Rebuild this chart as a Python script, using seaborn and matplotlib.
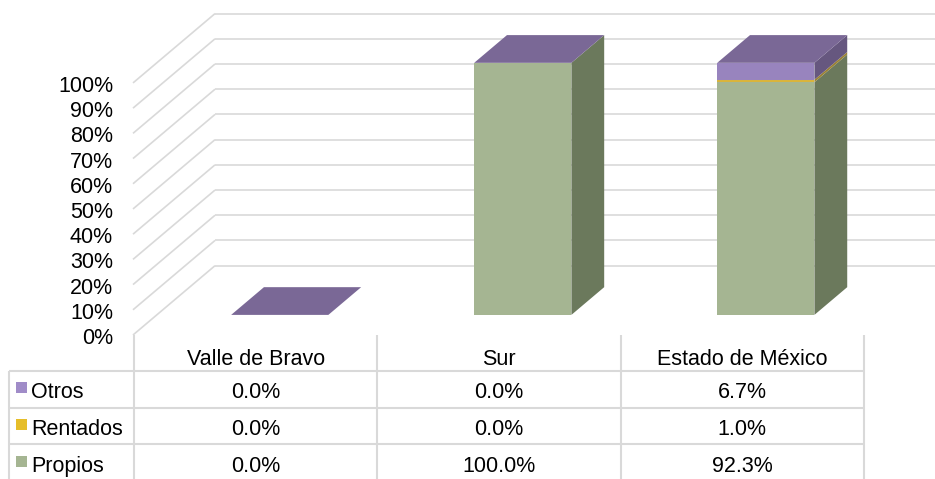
import matplotlib
matplotlib.use("Agg")
import matplotlib.pyplot as plt
import seaborn as sns
import pandas as pd
from matplotlib.transforms import ScaledTranslation

# ---------------- data ----------------
categories = ["Valle de Bravo", "Sur", "Estado de México"]
series_names = ["Otros", "Rentados", "Propios"]
otros = [0.0, 0.0, 6.7]
rentados = [0.0, 0.0, 1.0]
propios = [0.0, 100.0, 92.3]
y_ticks = [0, 10, 20, 30, 40, 50, 60, 70, 80, 90, 100]
y_tick_labels = [f"{v}%" for v in y_ticks]

# ---------------- style ----------------
sns.set_theme(style="white")
plt.rcParams["font.family"] = ["Liberation Sans", "DejaVu Sans"]
FS = 15.5

front_col = {"Otros": "#9884BE", "Rentados": "#D9B43C", "Propios": "#A5B592"}
side_col = {"Otros": "#66577F", "Rentados": "#9A8233", "Propios": "#6B795C"}
top_col = "#7A6896"
key_col = {"Otros": "#A08CC8", "Rentados": "#E6BE2A", "Propios": "#A5B592"}
grid_col = "#D9D9D9"

W_PX, H_PX, DPI = 935, 479, 100
fig = plt.figure(figsize=(W_PX / DPI, H_PX / DPI), dpi=DPI)
fig.patch.set_facecolor("white")

# chart axes: front plane of the 3D box
ax_left, ax_right, ax_top, ax_bottom = 133, 935, 0, 335
ax = fig.add_axes([ax_left / W_PX, 1 - ax_bottom / H_PX,
                   (ax_right - ax_left) / W_PX, (ax_bottom - ax_top) / H_PX])

# 3D geometry (in data units)
DX, DY = 0.3374, 27.5      # full depth offset
D0, D1 = 0.29, 0.69        # bar front / back depth fractions
BW = 0.40                  # bar width
XLIM = (-0.506, 2.794)
YLIM = (0, 132.9)

df = pd.DataFrame({"cat": categories, "Otros": otros,
                   "Rentados": rentados, "Propios": propios})
df["c_prop"] = df["Propios"]
df["c_rent"] = df["Propios"] + df["Rentados"]
df["c_tot"] = df["c_rent"] + df["Otros"]

# front faces through seaborn (stacked by drawing cumulative totals)
for col, name in [("c_tot", "Otros"), ("c_rent", "Rentados"), ("c_prop", "Propios")]:
    n0 = len(ax.patches)
    sns.barplot(data=df, x="cat", y=col, order=categories, color=front_col[name],
                saturation=1, width=BW, linewidth=0, edgecolor="none", ax=ax)
    for p in ax.patches[n0:]:
        p.set_x(p.get_x() + D0 * DX)
        p.set_y(p.get_y() + D0 * DY)
        p.set_zorder(3)
        p.set_facecolor(front_col[name])

# side and top faces
for i in range(len(categories)):
    xl, xr = i - BW / 2, i + BW / 2
    bottom = 0.0
    for name, vals in [("Propios", propios), ("Rentados", rentados), ("Otros", otros)]:
        top = bottom + vals[i]
        if vals[i] > 0:
            ax.fill([xr + D0 * DX, xr + D1 * DX, xr + D1 * DX, xr + D0 * DX],
                    [bottom + D0 * DY, bottom + D1 * DY, top + D1 * DY, top + D0 * DY],
                    color=side_col[name], lw=0, zorder=3)
        bottom = top
    t = bottom
    ax.fill([xl + D0 * DX, xr + D0 * DX, xr + D1 * DX, xl + D1 * DX],
            [t + D0 * DY, t + D0 * DY, t + D1 * DY, t + D1 * DY],
            color=top_col, lw=0, zorder=3)

# walls gridlines
for v in y_ticks:
    ax.plot([XLIM[0], XLIM[0] + DX], [v, v + DY], color=grid_col, lw=1.2,
            zorder=1, clip_on=False, solid_capstyle="butt")
    ax.plot([XLIM[0] + DX, XLIM[1]], [v + DY, v + DY], color=grid_col, lw=1.2,
            zorder=1, clip_on=False, solid_capstyle="butt")

ax.set_xlim(*XLIM)
ax.set_ylim(*YLIM)
ax.set_axis_off()

# y labels
lab_tr = ax.transData + ScaledTranslation(-20 / DPI, -9 / DPI, fig.dpi_scale_trans)
for v, lab in zip(y_ticks, y_tick_labels):
    ax.text(XLIM[0], v, lab, ha="right", va="baseline", fontsize=FS,
            color="#000000", transform=lab_tr, clip_on=False)

# ---------------- data table ----------------
fig.canvas.draw()
tax = fig.add_axes([0, 0, 1, 1], zorder=-1)
tax.set_xlim(0, W_PX)
tax.set_ylim(H_PX, 0)
tax.set_axis_off()


def to_px(x, y):
    d = ax.transData.transform((x, y))
    return d[0], H_PX - d[1]


bounds = [to_px(i - 0.5, 0)[0] for i in range(len(categories) + 1)]
centers = [to_px(i, 0)[0] for i in range(len(categories))]
floor_y = to_px(0, 0)[1]
row_lines = [371, 408, 444]
table_left = 9
lw_t = 1.5
for bx in bounds:
    tax.plot([bx, bx], [floor_y, H_PX], color=grid_col, lw=lw_t, solid_capstyle="butt")
for ry in row_lines:
    tax.plot([table_left, bounds[-1]], [ry, ry], color=grid_col, lw=lw_t, solid_capstyle="butt")
tax.plot([table_left, table_left], [row_lines[0], H_PX], color=grid_col, lw=lw_t,
         solid_capstyle="butt")

header_base = 365
row_bases = [398, 435, 472]
for c, cx in zip(categories, centers):
    tax.text(cx, header_base, c, ha="center", va="baseline", fontsize=FS, color="black")

values = {"Otros": otros, "Rentados": rentados, "Propios": propios}
for name, base in zip(series_names, row_bases):
    tax.add_patch(plt.Rectangle((16, base - 16), 11, 11, color=key_col[name], lw=0))
    tax.text(31, base, name, ha="left", va="baseline", fontsize=FS, color="black")
    for cx, v in zip(centers, values[name]):
        tax.text(cx, base, f"{v:.1f}%", ha="center", va="baseline", fontsize=FS,
                 color="black")

fig.savefig("out.png", dpi=DPI)
